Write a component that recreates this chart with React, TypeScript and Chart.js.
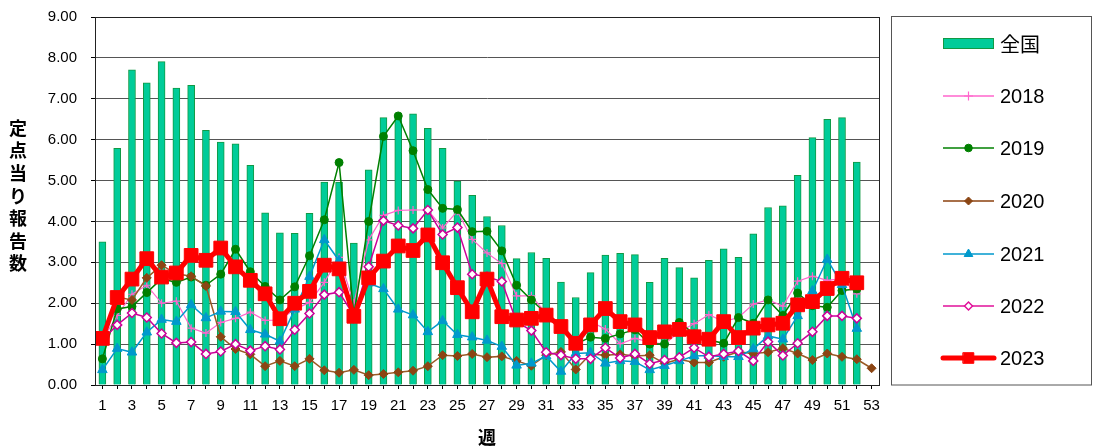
import React, { useEffect, useRef } from 'react';
import { Chart, registerables } from 'chart.js';
import { drawPoint } from 'chart.js/helpers';

Chart.register(...registerables);

const weeks = ['1','2','3','4','5','6','7','8','9','10','11','12','13','14','15','16','17','18','19','20','21','22','23','24','25','26','27','28','29','30','31','32','33','34','35','36','37','38','39','40','41','42','43','44','45','46','47','48','49','50','51','52','53'];

const yTicks = [0, 1, 2, 3, 4, 5, 6, 7, 8, 9];

const national = [3.50,5.79,7.71,7.39,7.91,7.26,7.33,6.23,5.94,5.90,5.37,4.21,3.72,3.71,4.20,4.96,4.96,3.47,5.26,6.54,6.55,6.63,6.28,5.79,4.99,4.64,4.12,3.90,3.09,3.24,3.10,2.52,2.14,2.75,3.18,3.22,3.19,2.51,3.10,2.87,2.62,3.05,3.33,3.12,3.70,4.34,4.38,5.13,6.05,6.50,6.54,5.45,null];

const y2018 = [1.10,1.70,2.22,2.44,2.00,2.05,1.39,1.27,1.53,1.63,1.78,1.58,1.59,1.85,2.02,2.51,3.12,2.00,3.55,4.15,4.27,4.28,4.28,3.84,4.25,3.56,3.23,2.97,2.18,2.18,1.75,1.45,1.10,1.55,1.37,1.01,1.14,1.05,1.00,1.30,1.50,1.72,1.55,1.65,1.98,2.08,1.93,2.54,2.66,2.56,2.60,2.23,null];

const y2019 = [0.64,1.86,1.92,2.26,2.60,2.51,2.64,2.44,2.71,3.32,2.77,2.41,2.08,2.40,3.16,4.04,5.44,1.72,4.00,6.08,6.58,5.73,4.78,4.32,4.29,3.75,3.76,3.28,2.44,2.08,1.75,1.40,1.00,1.17,1.14,1.25,1.35,1.00,1.00,1.53,1.25,1.10,1.02,1.65,1.51,2.08,1.70,2.25,1.94,1.90,2.31,2.35,null];

const y2020 = [1.20,2.15,2.08,2.62,2.93,2.72,2.66,2.42,1.18,0.88,0.75,0.46,0.59,0.46,0.64,0.36,0.30,0.37,0.24,0.27,0.31,0.35,0.46,0.73,0.71,0.76,0.68,0.70,0.59,0.47,0.73,0.81,0.38,0.76,0.73,0.75,0.71,0.73,0.53,0.63,0.55,0.55,0.69,0.81,0.77,0.80,0.90,0.77,0.61,0.77,0.69,0.63,0.41];

const y2021 = [0.37,0.89,0.80,1.29,1.60,1.55,1.96,1.64,1.80,1.79,1.35,1.24,1.07,1.85,2.65,3.55,3.04,1.70,2.49,2.35,1.85,1.71,1.30,1.57,1.23,1.17,1.09,0.94,0.48,0.53,0.71,0.33,0.77,0.79,0.53,0.59,0.57,0.37,0.47,0.59,0.71,0.72,0.69,0.69,0.88,1.20,1.12,1.69,2.30,3.07,2.45,1.38,null];

const y2022 = [1.10,1.47,1.76,1.65,1.26,1.03,1.05,0.76,0.82,1.00,0.84,0.95,0.87,1.35,1.75,2.21,2.27,1.70,2.89,4.02,3.90,3.83,4.28,3.68,3.85,2.71,2.65,2.53,1.55,1.33,0.80,0.73,0.64,0.64,0.91,0.66,0.76,0.52,0.61,0.68,0.91,0.69,0.76,0.83,0.59,1.06,0.72,1.02,1.30,1.69,1.69,1.63,null];

const y2023 = [1.14,2.14,2.59,3.09,2.64,2.74,3.17,3.05,3.35,2.89,2.56,2.23,1.62,2.00,2.29,2.93,2.84,1.68,2.62,3.03,3.40,3.29,3.67,2.99,2.38,1.79,2.59,1.67,1.59,1.63,1.71,1.43,1.02,1.47,1.87,1.55,1.47,1.16,1.30,1.36,1.18,1.12,1.55,1.16,1.39,1.47,1.51,1.96,2.04,2.36,2.61,2.50,null];

const FONT = "'Liberation Sans', Arial, sans-serif";
const JP = "'Noto Sans CJK JP', 'Liberation Sans', sans-serif";

const BAR_FILL = '#00CC99';
const BAR_BORDER = '#119944';

const legendItems = [
  { label: '全国', kind: 'bar' },
  { label: '2018', kind: 'line', line: '#FF66CC', lw: 1.5, fill: '#FF66CC', stroke: '#FF66CC', style: 'cross', r: 4.5, bw: 1.2 },
  { label: '2019', kind: 'line', line: '#008000', lw: 1.5, fill: '#008000', stroke: '#008000', style: 'circle', r: 3.8, bw: 1 },
  { label: '2020', kind: 'line', line: '#A8704A', lw: 2, fill: '#8B4513', stroke: '#8B4513', style: 'rectRot', r: 4, bw: 1 },
  { label: '2021', kind: 'line', line: '#0099CC', lw: 1.5, fill: '#0099CC', stroke: '#0099CC', style: 'triangle', r: 5, bw: 1 },
  { label: '2022', kind: 'line', line: '#E0109A', lw: 1.5, fill: '#FFFFFF', stroke: '#E0109A', style: 'rectRot', r: 4, bw: 1.5 },
  { label: '2023', kind: 'line', line: '#FF0000', lw: 5, fill: '#FF0000', stroke: '#FF0000', style: 'rect', r: 7.5, bw: 1 },
];

const extrasPlugin = {
  id: 'extras',
  afterDraw(chart: any) {
    const ctx = chart.ctx as CanvasRenderingContext2D;
    const a = chart.chartArea;
    ctx.save();
    // plot border
    ctx.strokeStyle = '#222';
    ctx.lineWidth = 1;
    ctx.setLineDash([]);
    ctx.strokeRect(Math.round(a.left) + 0.5, Math.round(a.top) + 0.5, Math.round(a.right - a.left), Math.round(a.bottom - a.top));

    // vertical y title
    const title = '定点当り報告数';
    ctx.fillStyle = '#000';
    ctx.font = `bold 18px ${JP}`;
    ctx.textAlign = 'center';
    ctx.textBaseline = 'middle';
    for (let i = 0; i < title.length; i++) {
      ctx.fillText(title[i], 18, 128 + i * 22.6);
    }

    // legend box
    ctx.strokeStyle = '#555';
    ctx.lineWidth = 1;
    ctx.strokeRect(891.5, 16.5, 200, 368.5);
    const ys = [43, 96, 148, 201, 254, 306, 358];
    const x0 = 943, x1 = 994, xm = 968.5;
    legendItems.forEach((it: any, i: number) => {
      const y = ys[i];
      if (it.kind === 'bar') {
        ctx.fillStyle = BAR_FILL;
        ctx.fillRect(x0, y - 5, x1 - x0, 11);
        ctx.strokeStyle = BAR_BORDER;
        ctx.lineWidth = 1;
        ctx.strokeRect(x0 + 0.5, y - 5 + 0.5, x1 - x0 - 1, 10);
      } else {
        ctx.strokeStyle = it.line;
        ctx.lineWidth = it.lw;
        ctx.lineCap = it.lw > 3 ? 'round' : 'butt';
        ctx.beginPath();
        ctx.moveTo(x0, y);
        ctx.lineTo(x1, y);
        ctx.stroke();
        ctx.fillStyle = it.fill;
        ctx.strokeStyle = it.stroke;
        ctx.lineWidth = it.bw;
        drawPoint(ctx, { pointStyle: it.style, rotation: 0, radius: it.r, borderWidth: it.bw } as any, xm, y);
      }
      ctx.fillStyle = '#000';
      ctx.font = it.kind === 'bar' ? `20px ${JP}` : `20px ${FONT}`;
      ctx.textAlign = 'left';
      ctx.textBaseline = 'middle';
      ctx.fillText(it.label, 1000, y + 1);
    });
    ctx.restore();
  },
};

export default function App() {
  const ref = useRef<HTMLCanvasElement>(null);
  useEffect(() => {
    document.body.style.margin = '0';
    const lineDs = (label: string, data: any[], color: string, lw: number, style: string, r: number, bg: string, bc: string, bw: number, order: number) => ({
      type: 'line' as const,
      label,
      data,
      borderColor: color,
      borderWidth: lw,
      pointStyle: style,
      pointRadius: r,
      pointBackgroundColor: bg,
      pointBorderColor: bc,
      pointBorderWidth: bw,
      tension: 0,
      fill: false,
      clip: 12,
      order,
    });
    const chart = new Chart(ref.current!, {
      type: 'bar',
      data: {
        labels: weeks,
        datasets: [
          {
            type: 'bar',
            label: '全国',
            data: national,
            backgroundColor: BAR_FILL,
            borderColor: BAR_BORDER,
            borderWidth: 1,
            barThickness: 7,
            order: 10,
          } as any,
          lineDs('2018', y2018, '#FF66CC', 1.2, 'cross', 4, '#FF66CC', '#FF66CC', 1.2, 6),
          lineDs('2019', y2019, '#008000', 1.5, 'circle', 4, '#008000', '#008000', 1, 5),
          lineDs('2020', y2020, '#9A5A25', 1.5, 'rectRot', 4.5, '#8B4513', '#8B4513', 1, 4),
          lineDs('2021', y2021, '#0099CC', 1.5, 'triangle', 5.5, '#0099CC', '#0099CC', 1, 3),
          lineDs('2022', y2022, '#CC0099', 1.5, 'rectRot', 4.5, '#FFFFFF', '#CC0099', 1.5, 2),
          lineDs('2023', y2023, '#FF0000', 5, 'rect', 9.7, '#FF0000', '#FF0000', 1, 1),
        ],
      },
      options: {
        animation: false,
        responsive: true,
        maintainAspectRatio: false,
        layout: { autoPadding: false, padding: { left: 0, right: 214, top: 17, bottom: 0 } },
        plugins: { legend: { display: false }, tooltip: { enabled: false } },
        scales: {
          x: {
            offset: true,
            grid: { display: true, drawOnChartArea: false, offset: false, tickLength: 4, color: '#000' },
            border: { display: true, color: '#000' },
            ticks: {
              autoSkip: false,
              maxRotation: 0,
              minRotation: 0,
              padding: 8,
              color: '#000',
              font: { family: FONT, size: 15 },
              callback: (_v: any, i: number) => (i % 2 === 0 ? weeks[i] : ''),
            },
            title: { display: true, text: '週', color: '#000', font: { family: JP, size: 18, weight: 'bold' }, padding: { top: 3, bottom: 0 } },
            afterFit: (s: any) => { s.height = 63; },
          },
          y: {
            min: 0,
            max: 9,
            afterBuildTicks: (s: any) => { s.ticks = yTicks.map((v) => ({ value: v })); },
            grid: { color: '#555', lineWidth: 1, borderDash: [3, 3], tickLength: 4, tickBorderDash: [], tickColor: '#000' } as any,
            border: { display: true, color: '#000' },
            ticks: {
              padding: 14,
              color: '#000',
              font: { family: FONT, size: 15 },
              callback: (v: any) => Number(v).toFixed(2),
            },
            afterFit: (s: any) => { s.width = 95; s.paddingTop = 0; s.paddingBottom = 0; },
          },
        },
      },
      plugins: [extrasPlugin],
    });
    return () => chart.destroy();
  }, []);
  return (
    <div style={{ width: 1093, height: 448, position: 'relative' }}>
      <canvas ref={ref} />
    </div>
  );
}
